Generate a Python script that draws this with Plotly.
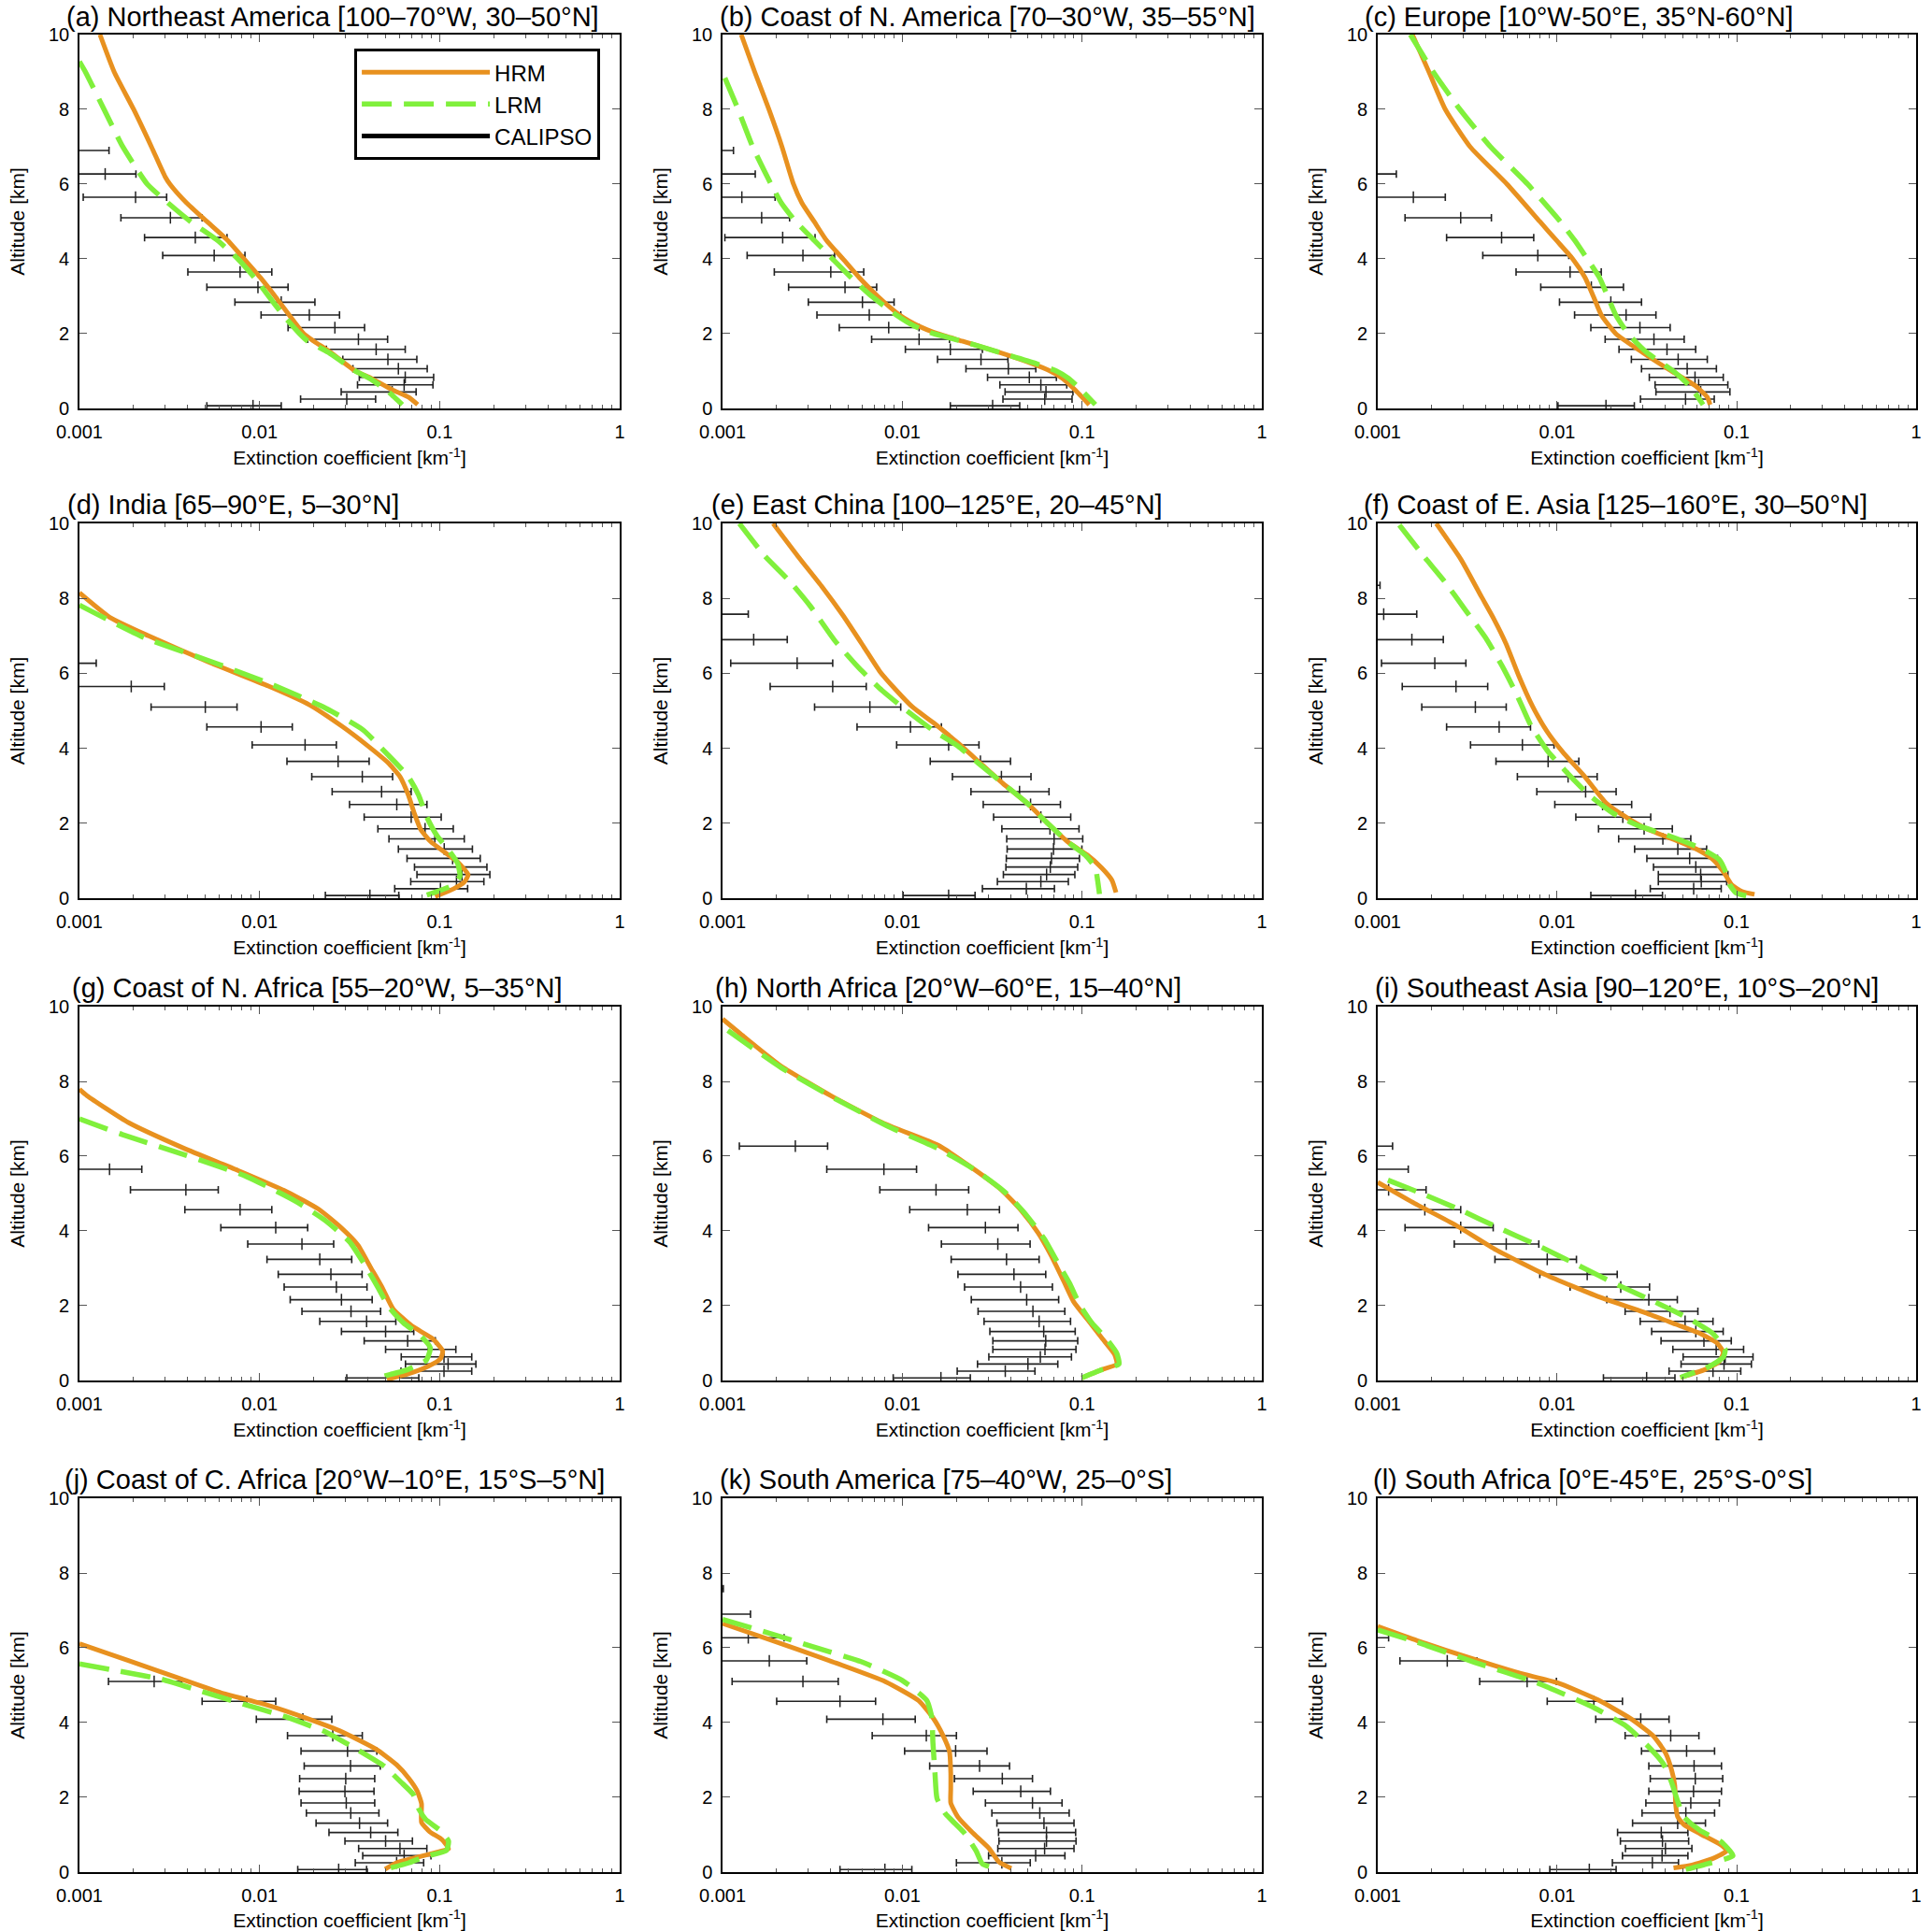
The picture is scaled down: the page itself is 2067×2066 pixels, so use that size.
import plotly.graph_objects as go

# CALIPSO altitude levels [km], bottom to top
cal_z = [0.07, 0.25, 0.44, 0.63, 0.83, 1.06, 1.31, 1.58, 1.85, 2.16, 2.50,
         2.84, 3.24, 3.65, 4.09, 4.57, 5.10, 5.65, 6.27, 6.90, 7.58, 8.35]

titles = [
    "(a) Northeast America [100–70°W, 30–50°N]",
    "(b) Coast of N. America [70–30°W, 35–55°N]",
    "(c) Europe [10°W-50°E, 35°N-60°N]",
    "(d) India [65–90°E, 5–30°N]",
    "(e) East China [100–125°E, 20–45°N]",
    "(f) Coast of E. Asia [125–160°E, 30–50°N]",
    "(g) Coast of N. Africa [55–20°W, 5–35°N]",
    "(h) North Africa [20°W–60°E, 15–40°N]",
    "(i) Southeast Asia [90–120°E, 10°S–20°N]",
    "(j) Coast of C. Africa [20°W–10°E, 15°S–5°N]",
    "(k) South America [75–40°W, 25–0°S]",
    "(l) South Africa [0°E-45°E, 25°S-0°S]",
]

# (a)
hrm_a_z = [10, 9, 8, 7, 6.2, 6, 5.5, 5, 4.5, 4, 3.5, 3, 2.5, 2, 1.8, 1.5, 1.0, 0.8, 0.5, 0.3, 0.1]
hrm_a = [0.0013, 0.00156, 0.0020, 0.00251, 0.00299, 0.00318, 0.00393, 0.0051, 0.00664, 0.0082, 0.0101,
         0.0122, 0.0146, 0.0176, 0.020, 0.0248, 0.034, 0.0419, 0.0545, 0.0672, 0.0755]
lrm_a_z = [9.28, 9, 8, 7, 6, 5.5, 5, 4.5, 4, 3.5, 3, 2.5, 2, 1.8, 1.5, 1.0, 0.8, 0.5, 0.1]
lrm_a = [0.001, 0.00108, 0.00137, 0.00174, 0.00238, 0.0031, 0.00414, 0.00582, 0.00758, 0.00936, 0.01125,
         0.0135, 0.0167, 0.0185, 0.0241, 0.034, 0.0408, 0.0504, 0.062]
cal_a_lo = [0.0051, 0.0169, 0.0284, 0.035, 0.0358, 0.033, 0.029, 0.0235, 0.0185, 0.0144, 0.0102, 0.0073,
            0.0051, 0.0040, 0.0029, 0.0023, 0.0017, 0.00105, 0.0008, 0.0005]
cal_a_mid = [0.0092, 0.0305, 0.0545, 0.0635, 0.0644, 0.059, 0.0516, 0.0444, 0.0354, 0.0262, 0.0189, 0.0132,
             0.0098, 0.0078, 0.0056, 0.0044, 0.0032, 0.00205, 0.00139, 0.0009]
cal_a_hi = [0.0132, 0.0441, 0.074, 0.0918, 0.0926, 0.0853, 0.0747, 0.0644, 0.0514, 0.0383, 0.0278, 0.0203,
            0.0144, 0.0117, 0.0083, 0.0066, 0.0048, 0.00305, 0.00206, 0.00146]

# (b)
hrm_b_z = [10, 9, 8, 7, 6, 5.5, 5, 4.5, 4, 3.5, 3, 2.5, 2.2, 2, 1.8, 1.5, 1.2, 1.0, 0.8, 0.5, 0.1]
hrm_b = [0.00127, 0.00151, 0.00181, 0.00214, 0.00248, 0.00276, 0.00323, 0.00378, 0.00467, 0.00576, 0.0073,
         0.00966, 0.0124, 0.0157, 0.0215, 0.0345, 0.0525, 0.0665, 0.078, 0.0913, 0.1096]
lrm_b_z = [8.84, 8, 7, 6, 5.5, 5, 4.5, 4, 3.5, 3, 2.5, 2.2, 2, 1.8, 1.5, 1.2, 1.0, 0.8, 0.5, 0.1]
lrm_b = [0.00103, 0.00122, 0.00147, 0.00186, 0.00212, 0.00255, 0.00323, 0.00409, 0.00519, 0.00675, 0.00925,
         0.0117, 0.0149, 0.0215, 0.0345, 0.0553, 0.072, 0.0843, 0.0987, 0.1186]
cal_b_lo = [0.0185, 0.0363, 0.0373, 0.0349, 0.0298, 0.0226, 0.0157, 0.0104, 0.00675, 0.00446, 0.00335, 0.0030,
            0.00233, 0.00194, 0.00137, 0.00103, 0.0007, 0.0006, 0.0005, 0.0004]
cal_b_mid = [0.0318, 0.062, 0.063, 0.059, 0.0509, 0.0389, 0.0274, 0.0185, 0.0124, 0.0084, 0.00655, 0.006,
             0.0048, 0.0040, 0.0028, 0.00216, 0.00165, 0.00128, 0.00095, 0.0008]
cal_b_hi = [0.045, 0.088, 0.089, 0.0822, 0.072, 0.0553, 0.0387, 0.0279, 0.0183, 0.0124, 0.0098, 0.0090,
            0.0072, 0.0061, 0.0042, 0.00327, 0.00236, 0.00196, 0.00152, 0.00115]

# (c)
hrm_c_z = [10, 9, 8, 7, 6, 5, 4.5, 4, 3.5, 3, 2.5, 2, 1.5, 1, 0.6, 0.3, 0.1]
hrm_c = [0.00156, 0.00193, 0.00238, 0.00327, 0.00525, 0.008, 0.00988, 0.0122, 0.0143, 0.0159, 0.0176,
         0.0212, 0.0298, 0.0432, 0.0591, 0.0686, 0.0711]
lrm_c_z = [10, 9, 8, 7, 6, 5, 4.5, 4, 3.5, 3, 2.5, 2, 1.5, 1, 0.6, 0.1]
lrm_c = [0.00152, 0.00204, 0.00287, 0.00425, 0.00684, 0.0104, 0.0125, 0.0147, 0.0172, 0.0191, 0.0212,
         0.0248, 0.0315, 0.0443, 0.0547, 0.065]
cal_c_lo = [0.0101, 0.0291, 0.0355, 0.0351, 0.0326, 0.0295, 0.0259, 0.0221, 0.0185, 0.0154, 0.0125, 0.0103,
            0.0081, 0.0059, 0.00385, 0.00242, 0.00142, 0.0007, 0.0005]
cal_c_mid = [0.0187, 0.0519, 0.063, 0.0614, 0.0586, 0.053, 0.0472, 0.0409, 0.0346, 0.0289, 0.0242, 0.0199,
             0.0155, 0.0118, 0.0078, 0.0049, 0.0029, 0.00158, 0.0009]
cal_c_hi = [0.0269, 0.075, 0.0917, 0.0893, 0.0842, 0.0771, 0.0686, 0.0591, 0.051, 0.0426, 0.0355, 0.0295,
            0.0234, 0.0176, 0.0116, 0.0074, 0.0043, 0.00238, 0.00127]

# (d)
hrm_d_z = [8.15, 7.5, 7.0, 6.28, 5.66, 5.16, 4.58, 4.08, 3.62, 3.24, 2.75, 2.25, 1.83, 1.50, 1.21, 0.96,
           0.62, 0.42, 0.25, 0.04]
hrm_d = [0.001, 0.00147, 0.00242, 0.00535, 0.0112, 0.0189, 0.0288, 0.0395, 0.0515, 0.0603, 0.067, 0.0725,
         0.0785, 0.0895, 0.1077, 0.126, 0.1439, 0.1365, 0.1197, 0.0944]
lrm_d_z = [7.82, 6.95, 6.36, 5.74, 5.07, 4.49, 3.83, 3.24, 2.75, 2.16, 1.66, 1.25, 0.92, 0.58, 0.33, 0.08]
lrm_d = [0.001, 0.0023, 0.00507, 0.0112, 0.0233, 0.0375, 0.0515, 0.067, 0.0764, 0.0849, 0.0968, 0.1135,
         0.126, 0.1295, 0.1165, 0.0849]
cal_d_lo = [0.0232, 0.0563, 0.0691, 0.0748, 0.0725, 0.0659, 0.059, 0.0523, 0.0454, 0.0381, 0.0316, 0.0253,
            0.0195, 0.0142, 0.0091, 0.0051, 0.0025, 0.0009, 0.0005]
cal_d_mid = [0.041, 0.101, 0.124, 0.133, 0.127, 0.118, 0.106, 0.094, 0.083, 0.0695, 0.0578, 0.0476,
             0.0372, 0.0273, 0.0179, 0.0102, 0.0050, 0.00194, 0.0009]
cal_d_hi = [0.0593, 0.143, 0.176, 0.190, 0.183, 0.168, 0.152, 0.137, 0.119, 0.102, 0.085, 0.0695,
            0.0548, 0.0406, 0.0267, 0.0152, 0.0075, 0.00296, 0.00124]

# (e)
hrm_e_z = [10, 9.13, 8.30, 7.55, 6.72, 6.05, 5.55, 5.10, 4.68, 4.14, 3.60, 3.06, 2.52, 1.98, 1.48, 1.15,
           0.81, 0.48, 0.15]
hrm_e = [0.00191, 0.00262, 0.00359, 0.00467, 0.00608, 0.0075, 0.00925, 0.0114, 0.0149, 0.0204, 0.0272,
         0.0363, 0.0499, 0.0649, 0.0843, 0.107, 0.1285, 0.1466, 0.1545]
lrm_e_z = [10, 9.13, 8.46, 7.80, 6.88, 6.13, 5.55, 4.97, 4.47, 4.06, 3.60, 3.06, 2.52, 1.98, 1.48, 1.15,
           0.81, 0.48, 0.11]
lrm_e = [0.00124, 0.00172, 0.00236, 0.00307, 0.0042, 0.00577, 0.00769, 0.0108, 0.0149, 0.0204, 0.0265,
         0.0363, 0.0499, 0.0649, 0.0843, 0.104, 0.1186, 0.122, 0.125]
cal_e_lo = [0.0101, 0.0279, 0.0338, 0.0365, 0.0377, 0.0379, 0.0383, 0.0381, 0.0358, 0.0322, 0.0282, 0.0241,
            0.019, 0.0143, 0.0093, 0.0056, 0.00325, 0.00184, 0.00111, 0.0007, 0.0005]
cal_e_mid = [0.0181, 0.049, 0.059, 0.0635, 0.0666, 0.0676, 0.0694, 0.0699, 0.0663, 0.059, 0.0517, 0.0449,
             0.0356, 0.0272, 0.0181, 0.0111, 0.0066, 0.0041, 0.0026, 0.00149, 0.0009]
cal_e_hi = [0.0254, 0.0702, 0.0839, 0.0912, 0.0946, 0.0967, 0.0998, 0.1009, 0.0962, 0.0865, 0.0758, 0.0655,
            0.052, 0.040, 0.0267, 0.0165, 0.0098, 0.0063, 0.0041, 0.00229, 0.00139]

# (f)
hrm_f_z = [10, 9.04, 8.04, 7.45, 6.78, 5.95, 5.11, 4.44, 3.86, 3.27, 2.52, 2.11, 1.81, 1.56, 1.27, 1.02,
           0.69, 0.35, 0.18, 0.10]
hrm_f = [0.00212, 0.00291, 0.00379, 0.00444, 0.0052, 0.00609, 0.00731, 0.0088, 0.0109, 0.0141, 0.0189,
         0.0252, 0.0328, 0.045, 0.0618, 0.0743, 0.0847, 0.094, 0.107, 0.1257]
lrm_f_z = [9.96, 9.12, 8.45, 7.70, 6.95, 6.20, 5.45, 4.61, 3.94, 3.44, 2.77, 2.27, 1.94, 1.69, 1.35, 1.02,
           0.69, 0.35, 0.14, 0.06]
lrm_f = [0.00132, 0.00181, 0.00236, 0.00307, 0.00399, 0.00493, 0.00593, 0.00713, 0.0088, 0.0109, 0.0149,
         0.0204, 0.028, 0.0405, 0.0618, 0.0803, 0.087, 0.0916, 0.099, 0.113]
cal_f_lo = [0.0154, 0.033, 0.0366, 0.0366, 0.0344, 0.0316, 0.027, 0.022, 0.017, 0.0127, 0.0097, 0.0077,
            0.006, 0.00456, 0.00329, 0.00242, 0.00176, 0.00137, 0.00105, 0.0007, 0.0006, 0.0005]
cal_f_mid = [0.0273, 0.0576, 0.0635, 0.063, 0.0592, 0.0547, 0.047, 0.0388, 0.0305, 0.0232, 0.0179, 0.0144,
             0.0115, 0.0089, 0.0064, 0.00475, 0.0035, 0.00273, 0.00208, 0.00155, 0.00108, 0.0008]
cal_f_hi = [0.0386, 0.082, 0.088, 0.0894, 0.0847, 0.0782, 0.068, 0.0555, 0.0438, 0.0332, 0.026, 0.0213,
            0.0167, 0.0132, 0.0096, 0.0071, 0.0052, 0.0041, 0.0031, 0.00232, 0.00165, 0.00103]

# (g)
hrm_g_z = [7.79, 7.62, 6.9, 6.21, 5.62, 5.04, 4.58, 4.08, 3.62, 3.04, 2.46, 1.92, 1.46, 1.12, 0.79, 0.58,
           0.38, 0.17, 0.03]
hrm_g = [0.001, 0.0011, 0.00187, 0.00381, 0.00758, 0.0143, 0.0213, 0.0285, 0.0352, 0.0412, 0.0483, 0.0551,
         0.07, 0.0912, 0.104, 0.101, 0.0865, 0.0664, 0.051]
lrm_g_z = [7.0, 6.58, 6.04, 5.46, 4.79, 4.29, 3.71, 3.04, 2.46, 1.96, 1.54, 1.21, 0.875, 0.54, 0.29, 0.08]
lrm_g = [0.001, 0.00173, 0.00381, 0.00843, 0.0159, 0.023, 0.0316, 0.039, 0.0458, 0.0523, 0.063, 0.0778,
         0.0887, 0.0842, 0.0664, 0.0458]
cal_g_lo = [0.0305, 0.061, 0.0646, 0.0612, 0.0501, 0.0381, 0.0285, 0.0216, 0.0172, 0.0148, 0.0137, 0.0127,
            0.011, 0.0086, 0.0061, 0.00385, 0.00192, 0.0009]
cal_g_mid = [0.0537, 0.1057, 0.1114, 0.1057, 0.0865, 0.0664, 0.0501, 0.0393, 0.0322, 0.0285, 0.0267, 0.0249,
             0.0216, 0.0172, 0.0123, 0.0078, 0.0039, 0.00147]
cal_g_hi = [0.0766, 0.1507, 0.1589, 0.1507, 0.123, 0.0946, 0.0718, 0.0571, 0.047, 0.0422, 0.0395, 0.0371,
            0.0325, 0.0258, 0.0185, 0.0117, 0.0059, 0.00222]

# (h)
hrm_h_z = [9.67, 9.19, 8.40, 7.61, 6.86, 6.28, 5.69, 5.11, 4.53, 3.94, 3.36, 2.69, 2.11, 1.61, 1.11, 0.69,
           0.44, 0.275, 0.07]
hrm_h = [0.001, 0.00132, 0.00213, 0.00403, 0.00803, 0.016, 0.0244, 0.0354, 0.0462, 0.0571, 0.067, 0.0785,
         0.0897, 0.108, 0.130, 0.152, 0.156, 0.1264, 0.0997]
lrm_h_z = [9.36, 8.36, 7.53, 6.78, 6.19, 5.61, 5.03, 4.44, 3.78, 3.19, 2.61, 2.03, 1.53, 1.11, 0.73, 0.44,
           0.275, 0.07]
lrm_h = [0.00107, 0.00213, 0.00426, 0.00848, 0.016, 0.0258, 0.0374, 0.0487, 0.0618, 0.0724, 0.085, 0.097,
         0.1138, 0.137, 0.156, 0.1605, 0.1264, 0.0997]
cal_h_lo = [0.0089, 0.0202, 0.0262, 0.0303, 0.0319, 0.0319, 0.0307, 0.0285, 0.0264, 0.0242, 0.0222, 0.0204,
            0.0187, 0.0165, 0.014, 0.011, 0.0075, 0.0038, 0.00124]
cal_h_mid = [0.0164, 0.0374, 0.05, 0.0586, 0.0622, 0.0628, 0.0612, 0.0577, 0.0533, 0.0492, 0.0455, 0.0418,
             0.038, 0.034, 0.029, 0.023, 0.0154, 0.0079, 0.00254]
cal_h_hi = [0.0239, 0.0547, 0.0733, 0.0873, 0.0925, 0.0946, 0.0916, 0.0863, 0.0802, 0.0741, 0.0684, 0.0628,
            0.0577, 0.0514, 0.044, 0.0347, 0.0234, 0.012, 0.00384]

# (i)
hrm_i_z = [5.30, 4.74, 4.16, 3.49, 2.83, 2.24, 1.83, 1.50, 1.25, 1.00, 0.75, 0.50, 0.29, 0.08]
hrm_i = [0.001, 0.0016, 0.00271, 0.00458, 0.00859, 0.017, 0.0303, 0.046, 0.063, 0.0778, 0.0842, 0.0798,
         0.0664, 0.0486]
lrm_i_z = [5.36, 4.99, 4.57, 4.11, 3.62, 3.08, 2.54, 2.04, 1.66, 1.25, 0.83, 0.62, 0.37, 0.08]
lrm_i = [0.00114, 0.00178, 0.00286, 0.00458, 0.00773, 0.0131, 0.0221, 0.0373, 0.0539, 0.0738, 0.0863,
         0.0842, 0.07, 0.0486]
cal_i_lo = [0.0181, 0.042, 0.049, 0.0503, 0.0441, 0.0379, 0.0336, 0.029, 0.0239, 0.0189, 0.0118, 0.0080,
            0.0045, 0.00267, 0.00142, 0.0009, 0.0007, 0.0005, 0.0004]
cal_i_mid = [0.0315, 0.0738, 0.085, 0.0863, 0.0769, 0.0657, 0.0592, 0.0516, 0.0425, 0.0324, 0.0226, 0.0147,
             0.0088, 0.0052, 0.0029, 0.00183, 0.00115, 0.0008, 0.0007]
cal_i_hi = [0.0453, 0.1054, 0.1208, 0.1233, 0.1093, 0.0933, 0.0841, 0.0738, 0.0608, 0.0467, 0.0327, 0.0216,
            0.0128, 0.0079, 0.0044, 0.0029, 0.00186, 0.00148, 0.00121]

# (j)
hrm_j_z = [6.11, 5.66, 5.16, 4.78, 4.49, 4.12, 3.74, 3.29, 2.87, 2.50, 2.16, 1.83, 1.33, 1.08, 0.87, 0.62,
           0.54, 0.37, 0.25, 0.08]
hrm_j = [0.001, 0.00187, 0.00371, 0.00629, 0.01066, 0.0181, 0.029, 0.0443, 0.0577, 0.0676, 0.0752, 0.0793,
         0.0793, 0.0881, 0.103, 0.112, 0.098, 0.0713, 0.0577, 0.0498]
lrm_j_z = [5.57, 5.37, 5.16, 4.83, 4.49, 4.16, 3.74, 3.24, 2.83, 2.41, 2.08, 1.66, 1.41, 1.12, 0.83, 0.58,
           0.42, 0.25, 0.07]
lrm_j = [0.001, 0.00168, 0.00285, 0.00482, 0.00818, 0.0139, 0.0235, 0.0359, 0.0493, 0.0609, 0.0713, 0.0772,
         0.0836, 0.1005, 0.112, 0.109, 0.0836, 0.0676, 0.0493]
cal_j_lo = [0.0163, 0.034, 0.0374, 0.0355, 0.0298, 0.0243, 0.0206, 0.0182, 0.017, 0.0166, 0.0167, 0.0177,
            0.017, 0.0143, 0.0096, 0.0048, 0.00145]
cal_j_mid = [0.0275, 0.0577, 0.0635, 0.0602, 0.0501, 0.0414, 0.0359, 0.0321, 0.0303, 0.0298, 0.0301, 0.032,
             0.0308, 0.0255, 0.0174, 0.0085, 0.0026]
cal_j_hi = [0.0393, 0.0815, 0.0895, 0.0849, 0.0706, 0.0586, 0.0514, 0.046, 0.0436, 0.0432, 0.0436, 0.0468,
            0.0448, 0.0372, 0.0252, 0.0123, 0.0037]

# (k)
hrm_k_z = [6.65, 6.21, 5.63, 5.09, 4.59, 4.13, 3.64, 3.22, 2.64, 2.22, 1.85, 1.47, 1.06, 0.64, 0.27, 0.10]
hrm_k = [0.001, 0.00185, 0.00407, 0.00809, 0.0123, 0.0148, 0.0169, 0.0183, 0.0186, 0.0186, 0.0186, 0.0204,
         0.0245, 0.0303, 0.0345, 0.0404]
lrm_k_z = [6.76, 6.38, 5.97, 5.63, 5.13, 4.59, 4.13, 3.47, 2.64, 1.97, 1.56, 1.06, 0.56, 0.22, 0.08]
lrm_k = [0.001, 0.00185, 0.00348, 0.00589, 0.00998, 0.0137, 0.0146, 0.0148, 0.0152, 0.0156, 0.0174, 0.022,
         0.0258, 0.0279, 0.0345]
cal_k_lo = [0.0045, 0.020, 0.0302, 0.034, 0.0345, 0.0343, 0.0336, 0.0315, 0.029, 0.0248, 0.0195, 0.0142,
            0.0103, 0.0068, 0.0038, 0.0020, 0.00113, 0.0007, 0.0006, 0.0005, 0.0004]
cal_k_mid = [0.008, 0.0358, 0.0552, 0.0619, 0.0634, 0.0634, 0.0614, 0.0582, 0.053, 0.0456, 0.036, 0.0269,
             0.0198, 0.0136, 0.0078, 0.0045, 0.0028, 0.00182, 0.00139, 0.0009, 0.0007]
cal_k_hi = [0.0113, 0.0515, 0.0803, 0.0902, 0.0926, 0.0921, 0.0902, 0.0848, 0.0774, 0.0667, 0.053, 0.0395,
            0.0296, 0.020, 0.0118, 0.0071, 0.0044, 0.00294, 0.0022, 0.00143, 0.00101]

# (l)
hrm_l_z = [6.57, 6.19, 5.69, 5.32, 5.07, 4.61, 4.11, 3.65, 3.19, 2.73, 2.32, 1.82, 1.48, 1.275, 1.025, 0.73,
           0.57, 0.36, 0.19, 0.11]
hrm_l = [0.001, 0.00166, 0.00347, 0.0062, 0.00995, 0.0168, 0.0256, 0.0342, 0.0401, 0.0434, 0.0452, 0.0457,
         0.0469, 0.0507, 0.0626, 0.0815, 0.0881, 0.0733, 0.0564, 0.0445]
lrm_l_z = [6.48, 6.15, 5.61, 5.07, 4.40, 3.90, 3.40, 2.90, 2.40, 1.90, 1.48, 1.11, 0.82, 0.44, 0.23, 0.07]
lrm_l = [0.001, 0.00166, 0.00347, 0.00766, 0.016, 0.0243, 0.0316, 0.039, 0.0434, 0.0469, 0.0507, 0.0626,
         0.0815, 0.0953, 0.0695, 0.0521]
cal_l_lo = [0.0091, 0.0203, 0.0231, 0.024, 0.0225, 0.0217, 0.0263, 0.0297, 0.0312, 0.0324, 0.033, 0.0324,
            0.0295, 0.0239, 0.0164, 0.0088, 0.0037, 0.00133, 0.0005]
cal_l_mid = [0.0151, 0.0339, 0.0384, 0.0401, 0.0386, 0.038, 0.0469, 0.0521, 0.0555, 0.0575, 0.0588, 0.0579,
             0.0526, 0.0429, 0.0292, 0.016, 0.0068, 0.00244, 0.0008]
cal_l_hi = [0.0213, 0.0474, 0.0535, 0.0563, 0.054, 0.0535, 0.067, 0.0753, 0.0801, 0.0823, 0.0836, 0.0823,
            0.0753, 0.0616, 0.042, 0.0231, 0.0099, 0.00357, 0.00115]

panels = [
    (hrm_a_z, hrm_a, lrm_a_z, lrm_a, cal_a_lo, cal_a_mid, cal_a_hi),
    (hrm_b_z, hrm_b, lrm_b_z, lrm_b, cal_b_lo, cal_b_mid, cal_b_hi),
    (hrm_c_z, hrm_c, lrm_c_z, lrm_c, cal_c_lo, cal_c_mid, cal_c_hi),
    (hrm_d_z, hrm_d, lrm_d_z, lrm_d, cal_d_lo, cal_d_mid, cal_d_hi),
    (hrm_e_z, hrm_e, lrm_e_z, lrm_e, cal_e_lo, cal_e_mid, cal_e_hi),
    (hrm_f_z, hrm_f, lrm_f_z, lrm_f, cal_f_lo, cal_f_mid, cal_f_hi),
    (hrm_g_z, hrm_g, lrm_g_z, lrm_g, cal_g_lo, cal_g_mid, cal_g_hi),
    (hrm_h_z, hrm_h, lrm_h_z, lrm_h, cal_h_lo, cal_h_mid, cal_h_hi),
    (hrm_i_z, hrm_i, lrm_i_z, lrm_i, cal_i_lo, cal_i_mid, cal_i_hi),
    (hrm_j_z, hrm_j, lrm_j_z, lrm_j, cal_j_lo, cal_j_mid, cal_j_hi),
    (hrm_k_z, hrm_k, lrm_k_z, lrm_k, cal_k_lo, cal_k_mid, cal_k_hi),
    (hrm_l_z, hrm_l, lrm_l_z, lrm_l, cal_l_lo, cal_l_mid, cal_l_hi),
]

# layout of the 4x3 grid (paper fractions)
col_dom = [[0.0411, 0.3208], [0.3740, 0.6531], [0.7131, 0.9918]]
row_dom = [[0.7885, 0.9821], [0.5349, 0.7289], [0.2851, 0.4787], [0.0305, 0.2241]]
row_title_shift = [19, 20, 20, 20]
title_shift = [-16, -5, -16, -15, -14, -17, -10, -10, -5, -18, -5, -7]

HRM_COL = "#E8911F"
LRM_COL = "#80F03C"
FONT = "Liberation Sans, Arial, Helvetica, sans-serif"

minor_vals = [k * 10.0 ** e for e in (-3, -2, -1) for k in range(2, 10)]

fig = go.Figure()
layout = {}
annotations = []

for i, (hz, hx, lz, lx, clo, cmid, chi) in enumerate(panels):
    sfx = "" if i == 0 else str(i + 1)
    xa, ya = "x" + sfx, "y" + sfx
    n = len(cmid)

    fig.add_trace(go.Scatter(
        x=cmid, y=cal_z[:n], mode="markers", xaxis=xa, yaxis=ya, showlegend=False,
        marker=dict(symbol="line-ns", size=9, line=dict(width=1.5, color="#222")),
        error_x=dict(type="data", symmetric=False,
                     array=[h - m for h, m in zip(chi, cmid)],
                     arrayminus=[m - l for m, l in zip(cmid, clo)],
                     color="#222", thickness=1.6, width=4),
    ))
    fig.add_trace(go.Scatter(
        x=hx, y=hz, mode="lines", xaxis=xa, yaxis=ya, name="HRM", showlegend=(i == 0),
        line=dict(color=HRM_COL, width=5, shape="spline", smoothing=0.5),
    ))
    fig.add_trace(go.Scatter(
        x=lx, y=lz, mode="lines", xaxis=xa, yaxis=ya, name="LRM", showlegend=(i == 0),
        line=dict(color=LRM_COL, width=5.5, dash="32px,13px", shape="spline", smoothing=0.5),
    ))

    r, c = divmod(i, 3)
    layout["xaxis" + sfx] = dict(
        domain=col_dom[c], anchor=ya, type="log", range=[-3, 0], automargin=False,
        tickvals=[0.001, 0.01, 0.1, 1], ticktext=["0.001", "0.01", "0.1", "1"],
        ticks="inside", ticklen=8, tickwidth=1.2, tickcolor="#555",
        minor=dict(tickvals=minor_vals, ticks="inside", ticklen=4, tickwidth=1, tickcolor="#555"),
        showline=True, linecolor="black", linewidth=1.6, mirror="ticks",
        showgrid=False, zeroline=False, ticklabelstandoff=6,
        tickfont=dict(size=20, color="black", family=FONT),
        title=dict(text="Extinction coefficient [km<sup>-1</sup>]", standoff=11,
                   font=dict(size=21, color="black", family=FONT)),
    )
    layout["yaxis" + sfx] = dict(
        domain=row_dom[r], anchor=xa, range=[0, 10], tickvals=[0, 2, 4, 6, 8, 10], automargin=False,
        ticks="inside", ticklen=8, tickwidth=1.2, tickcolor="#555",
        showline=True, linecolor="black", linewidth=1.6, mirror="ticks",
        showgrid=False, zeroline=False, ticklabelstandoff=5,
        tickfont=dict(size=20, color="black", family=FONT),
        title=dict(text="Altitude [km]", standoff=20,
                   font=dict(size=21, color="black", family=FONT)),
    )
    annotations.append(dict(
        text=titles[i], xref="paper", yref="paper", x=col_dom[c][0], y=row_dom[r][1],
        xanchor="left", yanchor="middle", xshift=title_shift[i], yshift=row_title_shift[r],
        showarrow=False, font=dict(size=29, color="black", family=FONT),
    ))

# legend entry for CALIPSO
fig.add_trace(go.Scatter(x=[None], y=[None], mode="lines", name="CALIPSO",
                         line=dict(color="black", width=5)))

fig.update_layout(
    width=2067, height=2066, margin=dict(l=0, r=0, t=0, b=0, autoexpand=False),
    paper_bgcolor="white", plot_bgcolor="white",
    font=dict(family=FONT, color="black"),
    annotations=annotations,
    legend=dict(x=0.1834, y=0.9748, xanchor="left", yanchor="top", bgcolor="white",
                bordercolor="black", borderwidth=3, itemwidth=137,
                font=dict(size=24, color="black", family=FONT), tracegroupgap=0),
    **layout,
)

# drop the default page margin so the figure fills the window exactly
fig.write_html("out.html", config={"displayModeBar": False},
               post_script="document.body.style.margin = '0px';")
